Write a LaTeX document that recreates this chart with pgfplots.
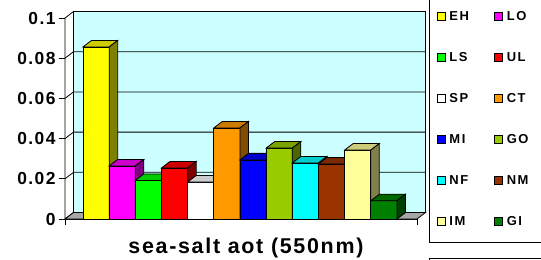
\documentclass[border=0pt]{standalone}
\usepackage{fontspec}
\setmainfont{Liberation Sans}
\newfontfamily\tickfont[LetterSpace=8]{Liberation Sans}
\newfontfamily\labfont[LetterSpace=8]{Liberation Sans}
\newfontfamily\legfont[LetterSpace=12]{Liberation Sans}
\usepackage{pgfplots}
\pgfplotsset{compat=1.18}
\definecolor{wallc}{HTML}{CCFFFF}
\definecolor{floorc}{HTML}{A6A6A6}
\definecolor{cEH}{HTML}{FFFF00}
\definecolor{cLO}{HTML}{FF00FF}
\definecolor{cLS}{HTML}{00FF00}
\definecolor{cUL}{HTML}{FF0000}
\definecolor{cSP}{HTML}{FFFFFF}
\definecolor{cCT}{HTML}{FF9900}
\definecolor{cMI}{HTML}{0000FF}
\definecolor{cGO}{HTML}{99CC00}
\definecolor{cNF}{HTML}{00FFFF}
\definecolor{cNM}{HTML}{993300}
\definecolor{cIM}{HTML}{FFFF99}
\definecolor{cGI}{HTML}{008000}
\def\dx{0.325}
\def\dy{0.00323}
\newcommand\tdbar[3]{%
  \pgfmathsetmacro\xl{#1-0.5}%
  \pgfmathsetmacro\xr{#1+0.5}%
  \pgfmathsetmacro\xld{#1-0.5+\dx}%
  \pgfmathsetmacro\xrd{#1+0.5+\dx}%
  \pgfmathsetmacro\vd{#2+\dy}%
  \edef\tmp{%
    \noexpand\addplot[fill=#3, draw=black, line width=0.8bp] coordinates {(\xl,0) (\xl,#2) (\xr,#2) (\xr,0)} -- cycle;
    \noexpand\addplot[forget plot, fill=#3!80!black, draw=black, line width=0.8bp] coordinates {(\xl,#2) (\xld,\vd) (\xrd,\vd) (\xr,#2)} -- cycle;
    \noexpand\addplot[forget plot, fill=#3!50!black, draw=black, line width=0.8bp] coordinates {(\xr,0) (\xr,#2) (\xrd,\vd) (\xrd,\dy)} -- cycle;
  }\tmp
}
\begin{document}
\begin{tikzpicture}
\useasboundingbox (0,0) rectangle (541bp,260bp);
\clip (0,0) rectangle (541bp,260bp);
\draw[line width=0.8bp] (429bp,18bp) rectangle (600bp,290bp);
\draw[line width=0.8bp] (429bp,-5bp) rectangle (600bp,2bp);
\begin{axis}[
  scale only axis, width=352bp, height=201bp,
  at={(65bp,41bp)}, anchor=south west,
  xmin=-1.188, xmax=12.264, ymin=0, ymax=0.1,
  clip=false, no marks,
  axis x line*=bottom, axis y line*=left,
  axis line style={line width=0.8bp, black},
  xtick={-1.188,12.264}, xticklabels={},
  ytick={0,0.02,0.04,0.06,0.08,0.1},
  yticklabels={0,0.02,0.04,0.06,0.08,0.1},
  tick align=outside, major tick length=6bp,
  tick style={line width=0.8bp, black},
  yticklabel style={font=\tickfont\bfseries\fontsize{17.5}{20}\selectfont, anchor=east},
  xlabel={sea-salt aot (550nm)},
  xlabel style={at={(axis description cs:0.514,-0.174)}, anchor=base, font=\labfont\bfseries\fontsize{21.5}{24}\selectfont},
  legend image code/.code={\draw[#1, draw=black, line width=0.8bp] (0bp,0.5bp) rectangle (8bp,8.5bp);},
  legend columns=2,
  legend style={at={(axis description cs:1.034,-0.1144)}, anchor=south west, draw=none, fill=none,
    inner xsep=7.5bp, inner ysep=15bp, font=\legfont\bfseries\fontsize{13}{15}\selectfont,
    nodes={inner sep=1bp, text height=9bp, text depth=0bp, anchor=base west},
    row sep=30bp,
    /tikz/every odd column/.append style={column sep=3bp},
    /tikz/every even column/.append style={column sep=24bp}},
]
% back wall
\addplot[forget plot, fill=wallc, draw=black, line width=0.8bp] coordinates {(-0.863,0.00323) (12.589,0.00323) (12.589,0.10323) (-0.863,0.10323)} -- cycle;
% side wall
\addplot[forget plot, fill=white, draw=black, line width=0.8bp] coordinates {(-1.188,0) (-1.188,0.1) (-0.863,0.10323) (-0.863,0.00323)} -- cycle;
% gridlines
\addplot[forget plot, black, line width=0.8bp] coordinates {(-1.188,0.02) (-0.863,0.02323) (12.589,0.02323)};
\addplot[forget plot, black, line width=0.8bp] coordinates {(-1.188,0.04) (-0.863,0.04323) (12.589,0.04323)};
\addplot[forget plot, black, line width=0.8bp] coordinates {(-1.188,0.06) (-0.863,0.06323) (12.589,0.06323)};
\addplot[forget plot, black, line width=0.8bp] coordinates {(-1.188,0.08) (-0.863,0.08323) (12.589,0.08323)};
% floor
\addplot[forget plot, fill=floorc, draw=black, line width=0.8bp] coordinates {(-1.188,0) (-0.863,0.00323) (12.589,0.00323) (12.264,0)} -- cycle;
% bars
\tdbar{0}{0.0856}{cEH}
\tdbar{1}{0.0264}{cLO}
\tdbar{2}{0.0192}{cLS}
\tdbar{3}{0.0254}{cUL}
\tdbar{4}{0.0184}{cSP}
\tdbar{5}{0.0453}{cCT}
\tdbar{6}{0.0294}{cMI}
\tdbar{7}{0.0353}{cGO}
\tdbar{8}{0.0279}{cNF}
\tdbar{9}{0.0274}{cNM}
\tdbar{10}{0.0343}{cIM}
\tdbar{11}{0.0091}{cGI}
\legend{EH,LO,LS,UL,SP,CT,MI,GO,NF,NM,IM,GI}
\end{axis}
\end{tikzpicture}
\end{document}
